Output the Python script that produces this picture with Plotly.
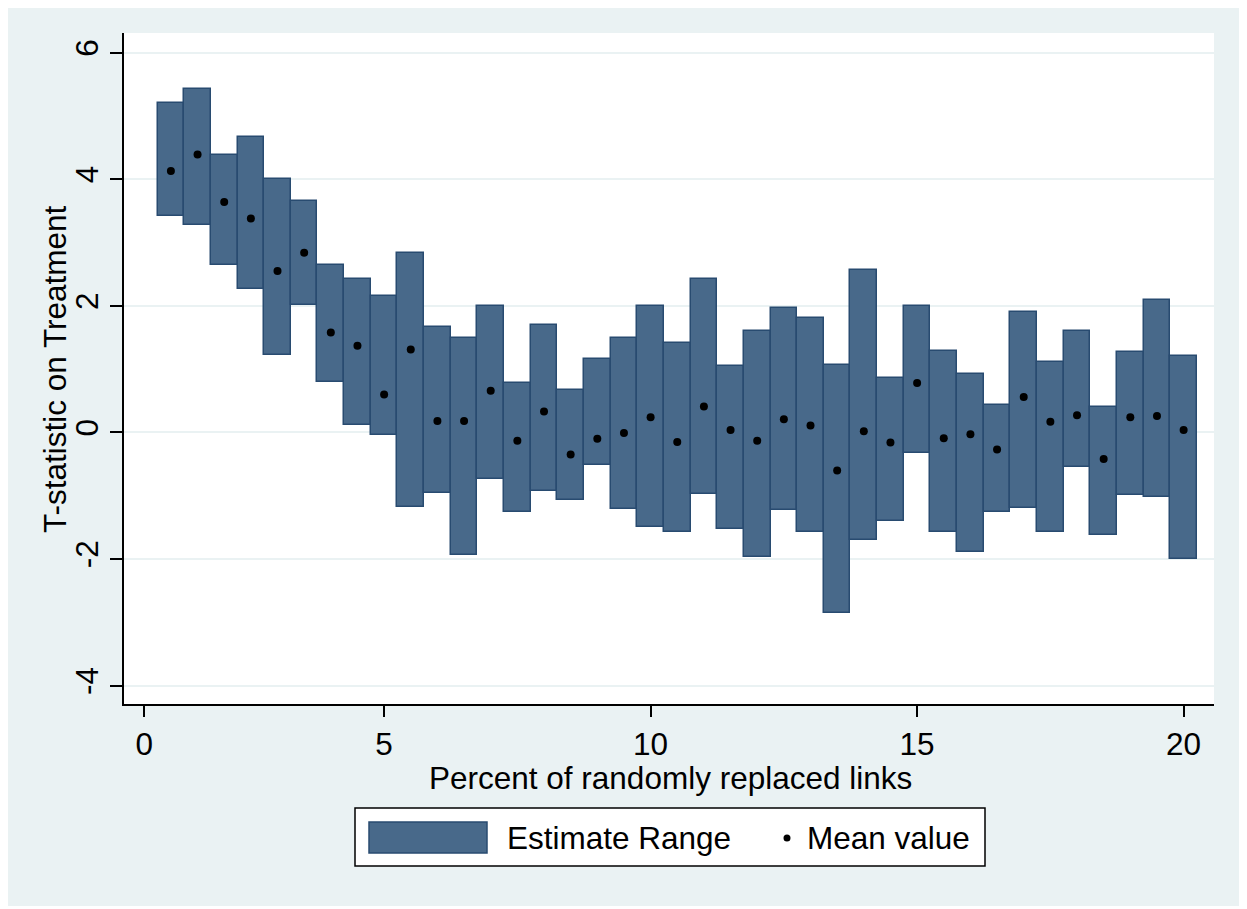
import plotly.graph_objects as go

# Percent of randomly replaced links (bar positions)
pct = [1.0, 1.5, 2.0, 2.5, 3.0, 3.5, 4.0, 4.5, 5.0, 5.5,
       6.0, 6.5, 7.0, 7.5, 8.0, 8.5, 9.0, 9.5, 10.0, 10.5,
       11.0, 11.5, 12.0, 12.5, 13.0, 13.5, 14.0, 14.5, 15.0, 15.5,
       16.0, 16.5, 17.0, 17.5, 18.0, 18.5, 19.0, 19.5, 20.0]

est_low = [3.42, 3.28, 2.65, 2.27, 1.22, 2.02, 0.79, 0.11, -0.04, -1.17,
           -0.96, -1.94, -0.73, -1.26, -0.92, -1.07, -0.52, -1.21, -1.50, -1.57,
           -0.98, -1.53, -1.97, -1.23, -1.58, -2.86, -1.70, -1.40, -0.33, -1.57,
           -1.89, -1.26, -1.19, -1.58, -0.54, -1.62, -0.99, -1.02, -2.00]

est_high = [5.21, 5.43, 4.39, 4.66, 4.00, 3.66, 2.64, 2.42, 2.15, 2.83,
            1.66, 1.49, 2.00, 0.78, 1.69, 0.67, 1.16, 1.49, 2.00, 1.41,
            2.42, 1.05, 1.60, 1.97, 1.80, 1.06, 2.57, 0.86, 2.00, 1.29,
            0.93, 0.44, 1.90, 1.12, 1.61, 0.40, 1.27, 2.10, 1.21]

mean_val = [4.13, 4.39, 3.64, 3.38, 2.55, 2.84, 1.58, 1.37, 0.60, 1.31,
            0.18, 0.18, 0.66, -0.13, 0.33, -0.35, -0.10, -0.01, 0.24, -0.15,
            0.41, 0.04, -0.13, 0.21, 0.11, -0.60, 0.02, -0.16, 0.78, -0.09,
            -0.03, -0.27, 0.56, 0.17, 0.27, -0.42, 0.24, 0.26, 0.04]

x_tickvals = [0.5, 5, 10, 15, 20]
x_ticktext = ["0", "5", "10", "15", "20"]
y_tickvals = [-4, -2, 0, 2, 4, 6]
y_ticktext = ["-4", "-2", "0", "2", "4", "6"]

BG = "#EAF2F3"
BAR_FILL = "#48698A"
BAR_EDGE = "#284B70"
FONT = "Liberation Sans, Arial, sans-serif"
FS = 31.5

fig = go.Figure()
fig.add_trace(go.Bar(
    x=pct,
    y=[h - l for h, l in zip(est_high, est_low)],
    base=est_low,
    width=0.5,
    marker=dict(color=BAR_FILL, line=dict(color=BAR_EDGE, width=1.5)),
    name="Estimate Range",
    showlegend=False,
))
fig.add_trace(go.Scatter(
    x=pct, y=mean_val, mode="markers",
    marker=dict(color="black", size=8),
    name="Mean value", showlegend=False,
))

OFF = 8  # page offset of the figure
W, H = 1236, 898
PL, PR, PT, PB = 124, 1214, 33, 704  # plot area in page pixels
L = PL - OFF
T = PT - OFF
R = W - (PR - OFF)
B = H - (PB - OFF)
pw, ph = PR - PL, PB - PT


def px(xp):
    return (xp - PL) / pw


def py(yp):
    return (PB - yp) / ph


shapes = [
    dict(type="rect", xref="paper", yref="paper",
         x0=px(355), x1=px(985), y0=py(866), y1=py(808),
         line=dict(color="black", width=1.5), fillcolor="white", layer="above"),
    dict(type="rect", xref="paper", yref="paper",
         x0=px(369), x1=px(487), y0=py(853), y1=py(822),
         line=dict(color=BAR_EDGE, width=1.5), fillcolor=BAR_FILL, layer="above"),
    dict(type="circle", xref="paper", yref="paper",
         x0=px(783.5), x1=px(790.5), y0=py(841.5), y1=py(834.5),
         line=dict(color="black", width=0), fillcolor="black", layer="above"),
]
annotations = [
    dict(text="Estimate Range", xref="paper", yref="paper",
         x=px(505), y=py(838), xanchor="left", yanchor="middle",
         showarrow=False, font=dict(size=FS, family=FONT, color="black")),
    dict(text="Mean value", xref="paper", yref="paper",
         x=px(805), y=py(838), xanchor="left", yanchor="middle",
         showarrow=False, font=dict(size=FS, family=FONT, color="black")),
    # axis titles
    dict(text="Percent of randomly replaced links", xref="paper", yref="paper",
         x=px(670), y=py(778), xanchor="center", yanchor="middle",
         showarrow=False, font=dict(size=FS, family=FONT, color="black")),
    dict(text="T-statistic on Treatment", xref="paper", yref="paper",
         x=px(55), y=py(369), xanchor="center", yanchor="middle",
         textangle=-90,
         showarrow=False, font=dict(size=FS, family=FONT, color="black")),
]

fig.update_layout(
    width=W, height=H,
    paper_bgcolor=BG, plot_bgcolor="white",
    margin=dict(l=L, r=R, t=T, b=B, pad=0),
    font=dict(family=FONT, size=FS, color="black"),
    showlegend=False,
    bargap=0,
    shapes=shapes,
    annotations=annotations,
    xaxis=dict(
        range=[0.12, 20.57],
        tickmode="array", tickvals=x_tickvals, ticktext=x_ticktext,
        ticks="outside", ticklen=11, tickwidth=1.5, tickcolor="black",
        showline=True, linecolor="black", linewidth=1.5,
        showgrid=False, zeroline=False,
    ),
    yaxis=dict(
        range=[-4.29, 6.31],
        tickmode="array", tickvals=y_tickvals, ticktext=y_ticktext,
        tickangle=-90,
        ticks="outside", ticklen=12, tickwidth=1.5, tickcolor="black",
        showline=True, linecolor="black", linewidth=1.5,
        showgrid=True, gridcolor=BG, gridwidth=2, zeroline=False,
    ),
)

fig.write_html("out.html")
